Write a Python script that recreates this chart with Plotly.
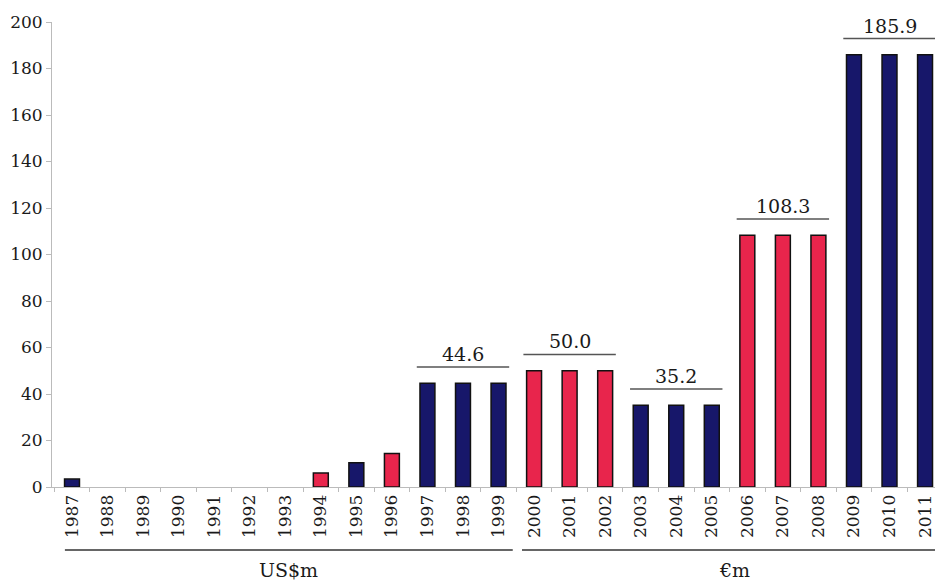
import plotly.graph_objects as go

years = [str(y) for y in range(1987, 2012)]
# years without a reported figure are left empty
values = [3.4, None, None, None, None, None, None, 6.0, 10.4, 14.4,
          44.6, 44.6, 44.6, 50.0, 50.0, 50.0, 35.2, 35.2, 35.2,
          108.3, 108.3, 108.3, 185.9, 185.9, 185.9]
colours = ["navy", "navy", "navy", "navy", "navy", "navy", "navy", "red", "navy", "red",
           "navy", "navy", "navy", "red", "red", "red", "navy", "navy", "navy",
           "red", "red", "red", "navy", "navy", "navy"]

# single-year labels
single_years = ["1987", "1994", "1995", "1996"]
single_values = [3.4, 6.0, 10.4, 14.4]

# three-year groups with a bracket line and one label
group_first = ["1997", "2000", "2003", "2006", "2009"]
group_last = ["1999", "2002", "2005", "2008", "2011"]
group_values = [44.6, 50.0, 35.2, 108.3, 185.9]

# currency spans under the axis
unit_labels = ["US$m", "€m"]
unit_first = ["1987", "2000"]
unit_last = ["1999", "2011"]

palette = {"navy": "#17176a", "red": "#e8254c"}
FONT = "DejaVu Serif"
TXT = "#1a1a1a"

fig = go.Figure(go.Bar(
    x=years, y=values,
    marker=dict(color=[palette[c] for c in colours],
                line=dict(color="#111111", width=1.5)),
    width=0.42, hoverinfo="x+y",
))

idx = {y: i for i, y in enumerate(years)}

for y, v in zip(single_years, single_values):
    fig.add_annotation(x=y, y=v, text=f"{v:.1f}", showarrow=False,
                       yanchor="bottom", yshift=8,
                       font=dict(family=FONT, size=18, color=TXT))

for a, b, v in zip(group_first, group_last, group_values):
    x0 = idx[a] - 0.3
    x1 = idx[b] + 0.3
    fig.add_shape(type="line", xref="x", yref="y", x0=x0, x1=x1,
                  y0=v + 7, y1=v + 7, line=dict(color="#555555", width=1.5))
    fig.add_annotation(x=idx[a] + 1, y=v + 7, text=f"{v:.1f}", showarrow=False,
                       yanchor="bottom", yshift=0,
                       font=dict(family=FONT, size=19, color=TXT))

for lab, a, b in zip(unit_labels, unit_first, unit_last):
    x0 = idx[a] - (0.2 if a == "1987" else 0.34)
    x1 = idx[b] + (0.4 if b == "1999" else 0.6)
    fig.add_shape(type="line", xref="x", yref="paper", x0=x0, x1=x1,
                  y0=-0.1355, y1=-0.1355, line=dict(color="#333333", width=1.5))
    fig.add_annotation(x=(x0 + x1) / 2, y=-0.178, xref="x", yref="paper",
                       text=lab, showarrow=False, yanchor="middle",
                       font=dict(family=FONT, size=19, color=TXT))

fig.update_layout(
    width=935, height=584,
    margin=dict(l=52, r=0, t=22, b=97),
    paper_bgcolor="white", plot_bgcolor="white",
    showlegend=False, bargap=0.5,
    font=dict(family=FONT),
    xaxis=dict(type="category", range=[-0.563, 24.28],
               tickangle=-90, tickson="boundaries", ticks="outside",
               ticklen=4, tickcolor="#bbbbbb",
               showline=True, linecolor="#bbbbbb", linewidth=1,
               showgrid=False,
               tickfont=dict(family=FONT, size=17, color=TXT)),
    yaxis=dict(range=[0, 200], dtick=20, ticks="outside", ticklen=5,
               tickcolor="#bbbbbb", showline=True, linecolor="#bbbbbb",
               linewidth=1, showgrid=False, zeroline=False,
               tickfont=dict(family=FONT, size=17, color=TXT)),
)

fig.write_html("out.html")
